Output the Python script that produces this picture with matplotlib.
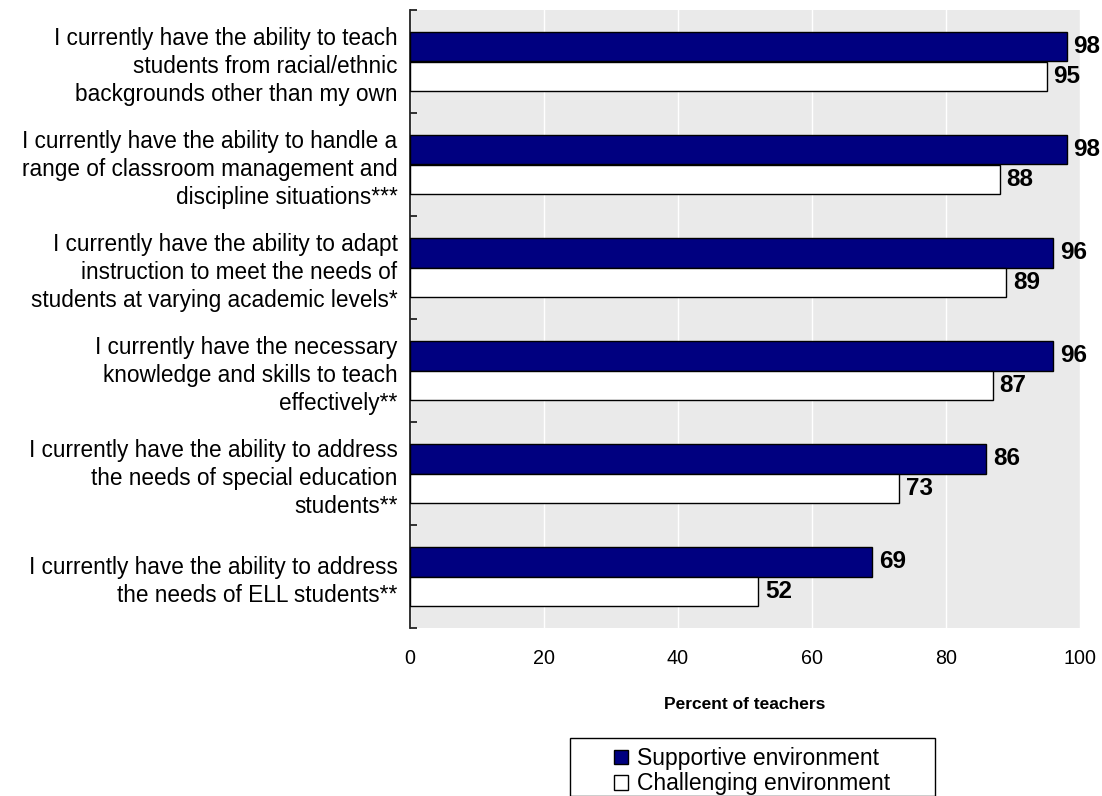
import matplotlib
matplotlib.use("Agg")
import matplotlib.pyplot as plt
from matplotlib.patches import Rectangle, Patch
import numpy as np

plt.rcParams['font.family'] = ['Liberation Sans', 'DejaVu Sans']

categories = [
    "I currently have the ability to teach\nstudents from racial/ethnic\nbackgrounds other than my own",
    "I currently have the ability to handle a\nrange of classroom management and\ndiscipline situations***",
    "I currently have the ability to adapt\ninstruction to meet the needs of\nstudents at varying academic levels*",
    "I currently have the necessary\nknowledge and skills to teach\neffectively**",
    "I currently have the ability to address\nthe needs of special education\nstudents**",
    "I currently have the ability to address\nthe needs of ELL students**",
]
supportive = [98, 98, 96, 96, 86, 69]
challenging = [95, 88, 89, 87, 73, 52]
series_names = ["Supportive environment", "Challenging environment"]
x_ticks = [0, 20, 40, 60, 80, 100]
x_label = "Percent of teachers"

navy = "#000080"
bg = "#EAEAEA"

fig = plt.figure(figsize=(11.02, 7.96), dpi=100)
ax = fig.add_axes([410 / 1102, 1 - 628 / 796, (1080 - 410) / 1102, (628 - 10) / 796])
ax.set_facecolor(bg)

y = np.arange(len(categories))
h = 0.285
ax.barh(y - h / 2, supportive, height=h, color=navy, edgecolor="black", linewidth=1.0, zorder=3)
ax.barh(y + h / 2, challenging, height=h, color="white", edgecolor="black", linewidth=1.0, zorder=3)

for yi, v in zip(y, supportive):
    ax.text(v + 1.0, yi - h / 2, f"{v}", va="center", ha="left", fontsize=17.5,
            fontweight="bold", zorder=4, clip_on=False)
for yi, v in zip(y, challenging):
    ax.text(v + 1.0, yi + h / 2, f"{v}", va="center", ha="left", fontsize=17.5,
            fontweight="bold", zorder=4, clip_on=False)

ax.set_xlim(0, 100)
ax.set_ylim(len(categories) - 0.5, -0.5)

ax.set_xticks(x_ticks)
ax.set_xticklabels([str(t) for t in x_ticks], fontsize=14.2)
ax.tick_params(axis="x", length=0, pad=15)
ax.grid(axis="x", color="white", linewidth=1.0, zorder=1)

# boundary ticks between groups, labels on group centres
ax.set_yticks(np.arange(-0.5, len(categories), 1.0))
ax.set_yticklabels([])
ax.tick_params(axis="y", which="major", direction="in", length=5, width=1.3, color="#222222")
ax.set_yticks(y, minor=True)
ax.set_yticklabels(categories, minor=True, fontsize=16.3, linespacing=1.28)
ax.tick_params(axis="y", which="minor", length=0, pad=9)

for s in ["top", "right", "bottom"]:
    ax.spines[s].set_visible(False)
ax.spines["left"].set_color("#222222")
ax.spines["left"].set_linewidth(1.3)

ax.set_xlabel(x_label, fontsize=12.5, fontweight="bold")
ax.xaxis.label.set_va("center")
ax.xaxis.set_label_coords(0.5, -0.124)

# legend with a wide frame drawn separately
fig.patches.append(Rectangle((570 / 1102, 0), (935 - 570) / 1102, 1 - 738 / 796,
                             transform=fig.transFigure, facecolor="white",
                             edgecolor="black", linewidth=1.0, zorder=0))
handles = [Patch(facecolor=navy, edgecolor="black", linewidth=1.0),
           Patch(facecolor="white", edgecolor="black", linewidth=1.0)]
fig.legend(handles, series_names, loc="upper center", bbox_to_anchor=(752 / 1102, 1 - 731 / 796),
           frameon=False, fontsize=16.5, handlelength=0.6, handleheight=0.6,
           handletextpad=0.4, labelspacing=0.1, borderpad=0.2)

fig.savefig("out.png", dpi=100)
